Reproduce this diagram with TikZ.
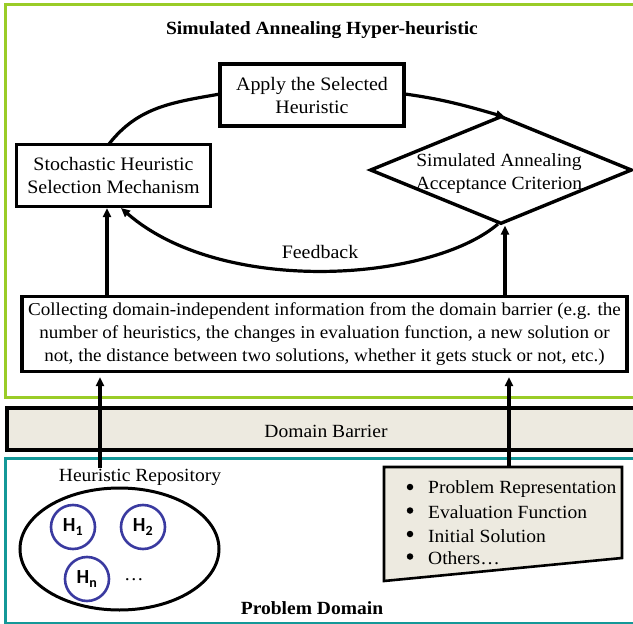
\documentclass[tikz,border=0pt]{standalone}
\usepackage{fontspec}
\setmainfont{Liberation Serif}[FakeStretch=1.05]
\newfontfamily\hfont{Carlito}
\usetikzlibrary{arrows.meta,shapes.geometric}
\definecolor{framegreen}{RGB}{154,204,40}
\definecolor{frameteal}{RGB}{20,152,152}
\definecolor{barrierfill}{RGB}{237,234,224}
\definecolor{hblue}{RGB}{58,58,160}
\newcommand{\fs}[1]{\fontsize{#1}{23}\selectfont}
\tikzset{
  box/.style={draw, line width=3.4pt, fill=white, align=center, font=\fs{19}},
  arr/.style={line width=3.2pt, -{Triangle[length=9pt,width=8pt]}},
  plain/.style={line width=3.2pt},
  txt/.style={font=\fs{18.6}},
  item/.style={font=\fs{18.6}, anchor=west, inner sep=0pt},
  bul/.style={circle, fill=black, inner sep=0pt, minimum size=6.5pt},
  hcirc/.style={circle, draw=hblue, line width=2.6pt, minimum size=44pt, inner sep=0pt, font=\hfont\bfseries\fontsize{20}{20}\selectfont},
}
\begin{document}
\begin{tikzpicture}[x=1pt,y=-1pt]
\useasboundingbox (0,0) rectangle (633,624);
% frames
\draw[framegreen, line width=3pt] (660,4) -- (5,4) -- (5,397) -- (660,397);
\draw[frameteal, line width=3pt] (660,458) -- (5,458) -- (5,623) -- (660,623);
\node (title) [font=\bfseries\fs{18.6}] at (322,30) {Simulated Annealing Hyper-heuristic};
% top nodes
\node (apply) [box, minimum width=184pt, minimum height=62pt, inner sep=0pt] at (312,95) {Apply the Selected\\Heuristic};
\node (stoch) [box, minimum width=194pt, minimum height=62pt, inner sep=0pt] at (113.5,175.5) {Stochastic Heuristic\\Selection Mechanism};
\node (dia) [diamond, draw, line width=3.4pt, aspect=2.42, minimum width=262pt, minimum height=108pt, inner sep=0pt] at (501,170) {};
\node (diatxt) [txt, align=center] at (499,173.5) {Simulated Annealing\\Acceptance Criterion};
% collecting box
\node (coll) [box, font=\fs{18.2}, minimum width=605pt, minimum height=75pt, inner sep=0pt] at (324.5,334) {Collecting domain-independent information from the domain barrier (e.g. the\\number of heuristics, the changes in evaluation function, a new solution or\\not, the distance between two solutions, whether it gets stuck or not, etc.)};
% cycle
\coordinate (s1) at (109,144);
\coordinate (a1) at (220,94);
\coordinate (a2) at (405,94);
\coordinate (d1) at (505,117);
\draw[plain] (s1) to[out=52, in=190] (a1);
\draw[arr] (a2) to[out=-8, in=164] (d1);
\coordinate (d2) at (498,224);
\coordinate (s2) at (121,208);
\draw[arr] (d2) .. controls (430,282) and (222,296) .. (s2);
\node (fb) [txt, font=\fs{19}] at (320,252) {Feedback};
\coordinate (c1) at (107,296.5);
\coordinate (c2) at (505,296.5);
\draw[arr] (c1) -- (c1 |- stoch.south);
\draw[arr] (c2) -- (c2 |- dia.south);
% domain barrier
\node (barrier) [draw, line width=4pt, fill=barrierfill, minimum width=680pt, minimum height=42pt, inner sep=0pt, anchor=west] at (5,428.5) {};
\node (btxt) [txt] at (326,431) {Domain Barrier};
% problem domain
\node (repo) [txt] at (140,477) {Heuristic Repository};
\node (ell) [ellipse, draw, line width=3pt, minimum width=199pt, minimum height=122pt, inner sep=0pt] at (119.5,549) {};
\node (h1) [hcirc] at (73,527) {H\textsubscript{1}};
\node (h2) [hcirc] at (143,527) {H\textsubscript{2}};
\node (hn) [hcirc] at (87,579) {H\textsubscript{n}};
\node (dots) [txt] at (134,580) {\dots};
\node (pd) [font=\bfseries\fs{18.6}] at (312,608) {Problem Domain};
% info box
\coordinate (ib1) at (384,467);
\coordinate (ib2) at (622,467);
\coordinate (ib3) at (622,558);
\coordinate (ib4) at (384,581);
\draw[line width=2.6pt, fill=barrierfill] (ib1) -- (ib2) -- (ib3) -- (ib4) -- cycle;
\node (b1) [bul] at (410,487) {};
\node (b2) [bul] at (410,510.5) {};
\node (b3) [bul] at (410,534) {};
\node (b4) [bul] at (410,556.5) {};
\node (i1) [item] at (428,489) {Problem Representation};
\node (i2) [item] at (428,512) {Evaluation Function};
\node (i3) [item] at (428,536) {Initial Solution};
\node (i4) [item] at (428,558) {Others\dots};
% lower arrows
\coordinate (r1) at (100,468);
\coordinate (r2) at (509,467);
\draw[arr] (r1) -- ([yshift=-4pt]r1 |- coll.south);
\draw[arr] (r2) -- ([yshift=-4pt]r2 |- coll.south);
\end{tikzpicture}
\end{document}
